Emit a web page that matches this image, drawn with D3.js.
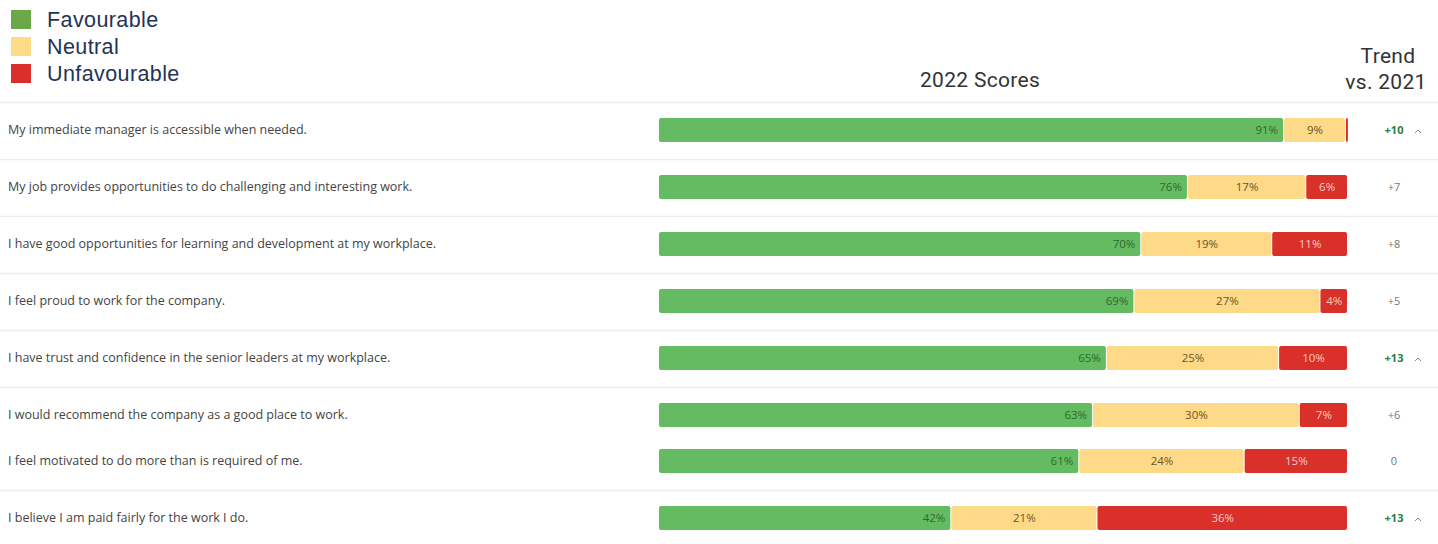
<!DOCTYPE html>
<html>
<head>
<meta charset="utf-8">
<script src="https://cdn.jsdelivr.net/npm/d3@7"></script>
<style>
  body { margin: 0; background: #fff; }
  svg { display: block; }
</style>
</head>
<body>
<div class="surveyChart"></div>
<script>
var questions = [
  "My immediate manager is accessible when needed.",
  "My job provides opportunities to do challenging and interesting work.",
  "I have good opportunities for learning and development at my workplace.",
  "I feel proud to work for the company.",
  "I have trust and confidence in the senior leaders at my workplace.",
  "I would recommend the company as a good place to work.",
  "I feel motivated to do more than is required of me.",
  "I believe I am paid fairly for the work I do."
];
var favourable   = [91, 76, 70, 69, 65, 63, 61, 42];
var neutral      = [9, 17, 19, 27, 25, 30, 24, 21];
var unfavourable = [0.3, 6, 11, 4, 10, 7, 15, 36];
var trend        = [10, 7, 8, 5, 13, 6, 0, 13];
var trendUp      = [true, false, false, false, true, false, false, true];
// rows that have a divider line above them
var divided      = [true, true, true, true, true, true, false, true];

var categories = ["Favourable", "Neutral", "Unfavourable"];
var colors = d3.scaleOrdinal().domain(categories).range(["#64bb61", "#fdd988", "#d9302a"]);
var legendColors = d3.scaleOrdinal().domain(categories).range(["#6aa84a", "#fddc87", "#d9302a"]);
var textColors = d3.scaleOrdinal().domain(categories).range(["#2f6a2c", "#6a5626", "#f6cbc4"]);

var width = 1438, height = 544;

var svg = d3.select(".surveyChart").append("svg")
    .attr("width", width)
    .attr("height", height);

// legend
var legend = svg.selectAll(".legend")
    .data(categories)
    .enter().append("g")
    .attr("class", "legend")
    .attr("transform", function(d, i) { return "translate(11," + (10 + i * 27) + ")"; });

legend.append("rect")
    .attr("width", 20)
    .attr("height", 19)
    .style("fill", function(d) { return legendColors(d); });

legend.append("text")
    .attr("x", 36)
    .attr("y", 17)
    .style("font-family", "'Liberation Sans', Arial, sans-serif")
    .style("font-size", "21.5px")
    .style("letter-spacing", "0.4px")
    .style("fill", "#1f3456")
    .text(function(d) { return d; });

// headers
function header(x, y, label) {
  svg.append("text")
      .attr("x", x).attr("y", y)
      .attr("text-anchor", "middle")
      .style("font-family", "Roboto, sans-serif")
      .style("font-size", "21px")
      .style("letter-spacing", "0.3px")
      .style("fill", "#333")
      .text(label);
}
header(980, 87, "2022 Scores");
header(1388, 63, "Trend");
header(1386, 89, "vs. 2021");

// row positions: a divided row takes a taller step
var rowY = [];
var yPos = 130;
questions.forEach(function(q, i) {
  if (i > 0) yPos += divided[i] ? 57 : 46;
  rowY.push(yPos);
});

var rows = questions.map(function(q, i) {
  var total = favourable[i] + neutral[i] + unfavourable[i];
  return {
    question: q,
    total: total,
    y: rowY[i],
    divided: divided[i],
    trend: trend[i],
    up: trendUp[i],
    segments: [
      { cat: "Favourable", value: favourable[i], start: 0 },
      { cat: "Neutral", value: neutral[i], start: favourable[i] },
      { cat: "Unfavourable", value: unfavourable[i], start: favourable[i] + neutral[i] }
    ]
  };
});

var barHeight = 24;

var row = svg.selectAll(".row")
    .data(rows)
    .enter().append("g")
    .attr("class", "row")
    .attr("transform", function(d) { return "translate(0," + d.y + ")"; });

row.filter(function(d) { return d.divided; })
  .append("line")
    .attr("x1", 0).attr("x2", width)
    .attr("y1", -27.5).attr("y2", -27.5)
    .style("stroke", "#ededed")
    .style("stroke-width", 1.5);

row.append("text")
    .attr("x", 8)
    .attr("y", 4)
    .style("font-family", "'Open Sans', sans-serif")
    .style("font-size", "12.5px")
    .style("fill", "#444")
    .text(function(d) { return d.question; });

row.each(function(d) {
  var x = d3.scaleLinear().domain([0, d.total]).range([659, 1348]);
  var g = d3.select(this);

  var seg = g.selectAll(".seg")
      .data(d.segments)
      .enter().append("g")
      .attr("class", "seg");

  seg.append("rect")
      .attr("x", function(s) { return x(s.start); })
      .attr("y", -barHeight / 2)
      .attr("width", function(s) { return Math.max(2, x(s.start + s.value) - x(s.start) - 1); })
      .attr("height", barHeight)
      .attr("rx", 2)
      .style("fill", function(s) { return colors(s.cat); });

  seg.filter(function(s) { return s.value >= 3; })
    .append("text")
      .attr("x", function(s) {
        return s.cat === "Favourable" ? x(s.start + s.value) - 6 : (x(s.start) + x(s.start + s.value)) / 2;
      })
      .attr("y", 4)
      .attr("text-anchor", function(s) { return s.cat === "Favourable" ? "end" : "middle"; })
      .style("font-family", "'Open Sans', sans-serif")
      .style("font-size", "11.5px")
      .style("fill", function(s) { return textColors(s.cat); })
      .text(function(s) { return Math.round(s.value) + "%"; });
});

row.append("text")
    .attr("x", 1394)
    .attr("y", 4)
    .attr("text-anchor", "middle")
    .style("font-family", "'Open Sans', sans-serif")
    .style("font-size", "11px")
    .style("font-weight", function(d) { return d.up ? "bold" : "normal"; })
    .style("fill", function(d) { return d.up ? "#2e7d3a" : "#777"; })
    .text(function(d) { return d.trend > 0 ? "+" + d.trend : d.trend; });

row.filter(function(d) { return d.up; })
  .append("path")
    .attr("d", "M1415,3 L1418,0 L1421,3")
    .style("fill", "none")
    .style("stroke", "#888")
    .style("stroke-width", 1);
</script>
</body>
</html>
